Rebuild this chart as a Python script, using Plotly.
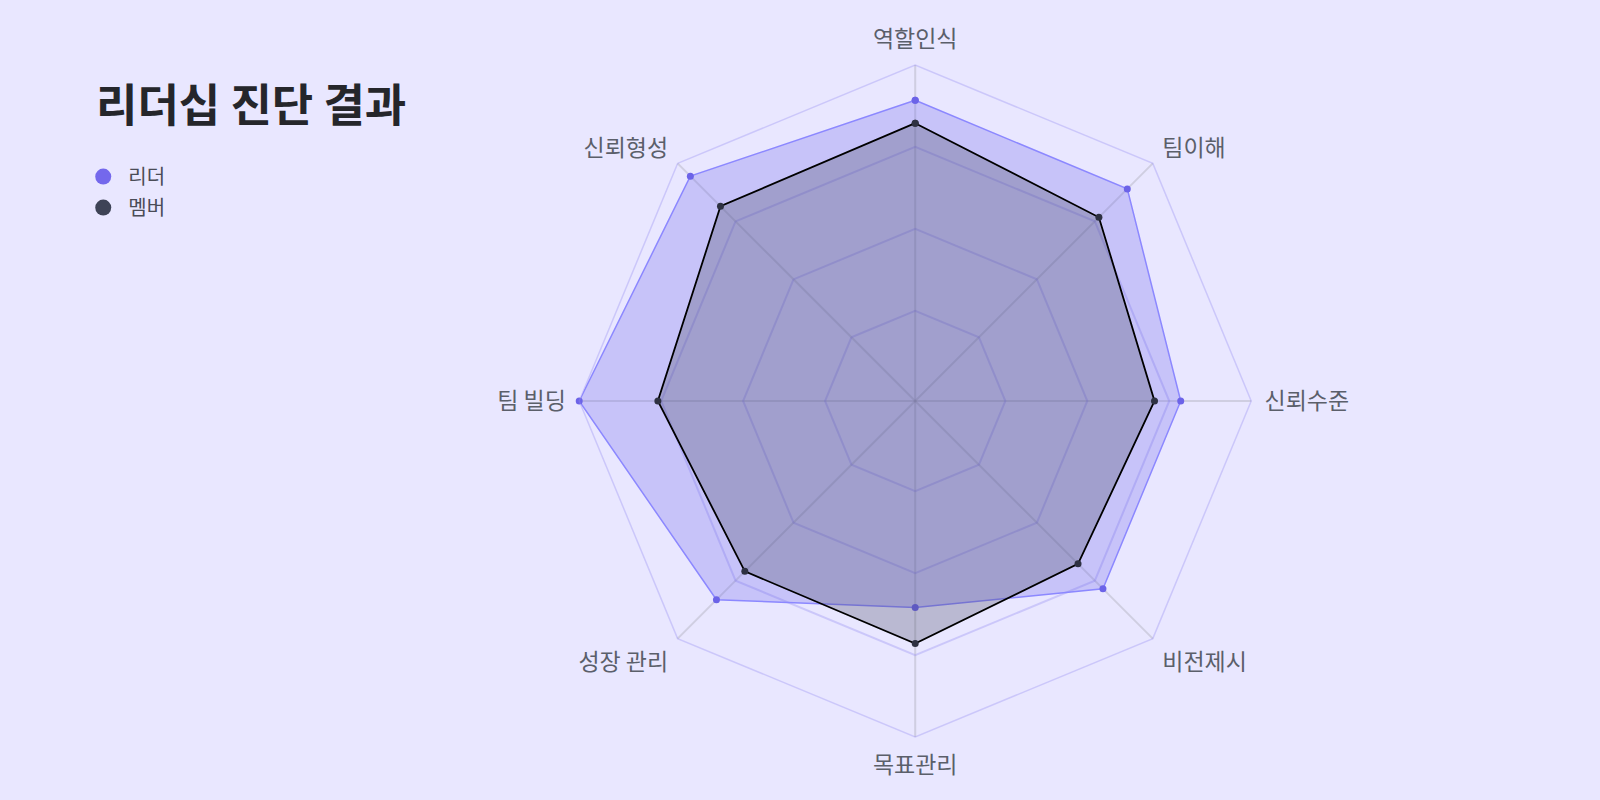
import plotly.graph_objects as go

# categories (clockwise from top)
categories = ["역할인식", "팀이해", "신뢰수준", "비전제시", "목표관리", "성장 관리", "팀 빌딩", "신뢰형성"]

# scores (5-point scale)
leader_scores = [4.57, 4.56, 4.14, 4.14, 3.42, 4.33, 5.0, 4.78]
member_scores = [4.29, 4.07, 3.82, 3.71, 3.86, 3.84, 4.04, 4.26]

grid_ticks = [2, 3, 4]
radial_range = [0.9, 5]

FONT = "Noto Sans CJK KR"
BG = "#E9E7FF"

fig = go.Figure()

# close the polygons
theta_closed = categories + categories[:1]

fig.add_trace(go.Scatterpolar(
    r=leader_scores + leader_scores[:1],
    theta=theta_closed,
    mode="lines+markers",
    fill="toself",
    fillcolor="rgba(108,99,232,0.27)",
    line=dict(color="#8C88FF", width=1.5),
    marker=dict(color="#6C63E8", size=7),
    name="리더",
    showlegend=False,
))

fig.add_trace(go.Scatterpolar(
    r=member_scores + member_scores[:1],
    theta=theta_closed,
    mode="lines+markers",
    fill="toself",
    fillcolor="rgba(60,63,90,0.27)",
    line=dict(color="#000000", width=1.8),
    marker=dict(color="#2E3142", size=7),
    name="멤버",
    showlegend=False,
))

# legend-only entries (plain dots)
fig.add_trace(go.Scatterpolar(r=[None], theta=[None], mode="markers",
                              marker=dict(color="#7468EC", size=16),
                              name="리더", legendgroup="a"))
fig.add_trace(go.Scatterpolar(r=[None], theta=[None], mode="markers",
                              marker=dict(color="#3E4356", size=16),
                              name="멤버", legendgroup="b"))

fig.update_layout(
    width=1600,
    height=800,
    paper_bgcolor=BG,
    plot_bgcolor=BG,
    margin=dict(l=0, r=0, t=65, b=63),
    font=dict(family=FONT, color="#5B5F6A"),
    title=dict(
        text="<b>리더십 진단 결과</b>",
        x=0.06, xanchor="left",
        y=0.8675, yanchor="middle",
        font=dict(family=FONT, size=45, color="#25262B"),
    ),
    legend=dict(
        x=0.0489, xanchor="left",
        y=0.863, yanchor="top",
        bgcolor="rgba(0,0,0,0)",
        font=dict(family=FONT, size=20, color="#4A4C57"),
        traceorder="grouped",
        tracegroupgap=2,
        itemwidth=40,
    ),
    polar=dict(
        domain=dict(x=[0.3505, 0.7935], y=[0, 1]),
        bgcolor=BG,
        gridshape="linear",
        radialaxis=dict(
            range=radial_range,
            tickvals=grid_ticks,
            showticklabels=False,
            ticks="",
            showline=False,
            gridcolor="rgba(150,140,240,0.35)",
            gridwidth=1.5,
        ),
        angularaxis=dict(
            direction="clockwise",
            rotation=90,
            ticks="outside",
            ticklen=8,
            tickcolor="rgba(0,0,0,0)",
            showline=True,
            linecolor="rgba(150,140,240,0.35)",
            linewidth=1.5,
            gridcolor="rgba(160,160,170,0.35)",
            gridwidth=1.5,
            tickfont=dict(family=FONT, size=23, color="#5B5F6A"),
        ),
    ),
)

fig.write_html("out.html", config={"displayModeBar": False},
               post_script="document.body.style.margin='0';")
